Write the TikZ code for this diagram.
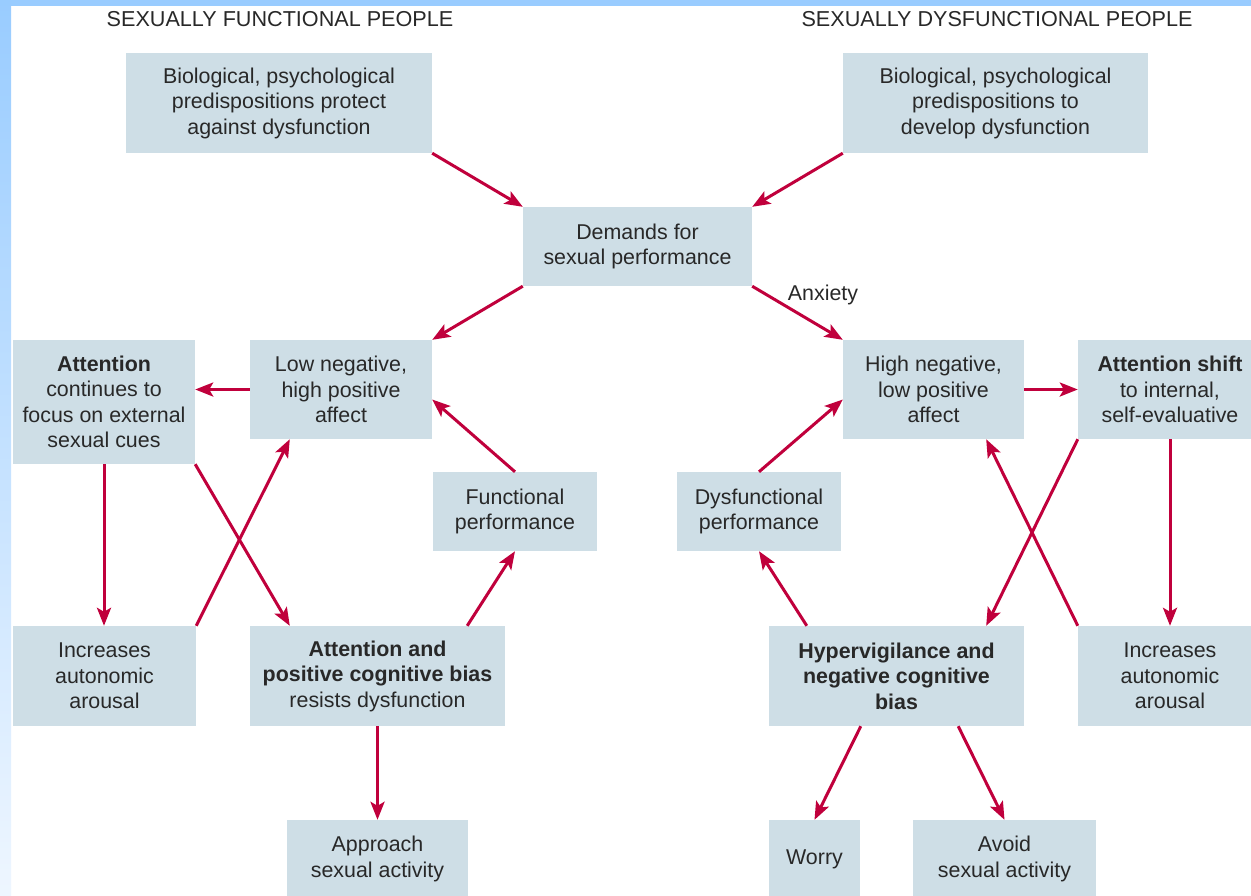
\documentclass[tikz,border=0pt]{standalone}
\usepackage{fontspec}
\setmainfont{Liberation Sans}
\usetikzlibrary{arrows.meta,calc}
\definecolor{arrowc}{RGB}{192,0,60}
\definecolor{boxc}{RGB}{206,222,230}
\definecolor{textc}{RGB}{40,40,40}
\definecolor{stripc}{RGB}{153,204,255}
\definecolor{stripl}{RGB}{238,246,255}
\tikzset{
  box/.style={fill=boxc, draw=none, inner sep=0pt, align=center, text=textc,
    font=\fontsize{21.4}{25.5}\selectfont},
  lbl/.style={inner sep=0pt, text=textc, font=\fontsize{21.4}{25.5}\selectfont},
  ttl/.style={inner sep=0pt, text=textc, font=\fontsize{21.6}{25.5}\selectfont},
  arr/.style={draw=arrowc, line width=3pt,
    -{Stealth[length=18pt,width=14pt,inset=4pt]}}
}
\begin{document}
\begin{tikzpicture}[x=1pt,y=-1pt]
\useasboundingbox (0,0) rectangle (1251,895);
\fill[white] (0,0) rectangle (1251,895);
\fill[stripc] (0,0) rectangle (1251,6);
\shade[top color=stripc, bottom color=stripl] (0,0) rectangle (11,895);

% titles
\node[ttl] (t1) at (280,19) {SEXUALLY FUNCTIONAL PEOPLE};
\node[ttl] (t2) at (997,19) {SEXUALLY DYSFUNCTIONAL PEOPLE};

% boxes
\node[box, minimum width=306pt, minimum height=100pt] (biol) at (279,103)
  {Biological, psychological\\predispositions protect\\against dysfunction};
\node[box, minimum width=305pt, minimum height=100pt] (bior) at (995.5,103)
  {Biological, psychological\\predispositions to\\develop dysfunction};
\node[box, minimum width=229pt, minimum height=79pt] (dem) at (637.5,246.5)
  {Demands for\\sexual performance};
\node[box, minimum width=182pt, minimum height=99pt] (lown) at (341,389.5)
  {Low negative,\\high positive\\affect};
\node[box, minimum width=182pt, minimum height=124pt] (attl) at (104,402)
  {\textbf{Attention}\\continues to\\focus on external\\sexual cues};
\node[box, minimum width=181pt, minimum height=99pt] (hign) at (933.5,389.5)
  {High negative,\\low positive\\affect};
\node[box, minimum width=184pt, minimum height=99pt] (atts) at (1170,389.5)
  {\textbf{Attention shift}\\to internal,\\self-evaluative};
\node[box, minimum width=164pt, minimum height=79pt] (func) at (515,511.5)
  {Functional\\performance};
\node[box, minimum width=164pt, minimum height=79pt] (dysf) at (759,511.5)
  {Dysfunctional\\performance};
\node[box, minimum width=183pt, minimum height=100pt] (incl) at (104.5,676)
  {Increases\\autonomic\\arousal};
\node[box, minimum width=255pt, minimum height=100pt] (attb) at (377.5,676)
  {\textbf{Attention and}\\\textbf{positive cognitive bias}\\resists dysfunction};
\node[box, minimum width=255pt, minimum height=100pt] (hyp) at (896.5,676)
  {\textbf{Hypervigilance and}\\\textbf{negative cognitive}\\\textbf{bias}};
\node[box, minimum width=184pt, minimum height=100pt] (incr) at (1170,676)
  {Increases\\autonomic\\arousal};
\node[box, minimum width=181pt, minimum height=78pt] (appr) at (377.5,859)
  {Approach\\sexual activity};
\node[box, minimum width=91pt, minimum height=78pt] (worry) at (814.5,859)
  {Worry};
\node[box, minimum width=183pt, minimum height=78pt] (avoid) at (1004.5,859)
  {Avoid\\sexual activity};

\node[lbl] (anx) at (823,295) {Anxiety};

% connectors
\draw[arr] (biol.south east) -- (dem.north west);
\draw[arr] (bior.south west) -- (dem.north east);
\draw[arr] (dem.south west) -- (lown.north east);
\draw[arr] (dem.south east) -- (hign.north west);
\draw[arr] (lown.west) -- (lown.west -| attl.east);
\draw[arr] (hign.east) -- (atts.west);
\draw[arr] (attl.south) -- (attl.south |- incl.north);
\draw[arr] (attl.south east) -- ($(attb.north west)+(40,0)$);
\draw[arr] (incl.north east) -- ($(lown.south west)+(40,0)$);
\draw[arr] ($(attb.north east)+(-38,0)$) -- (func.south);
\draw[arr] (func.north) -- ($(lown.east)+(0,10)$);
\draw[arr] (dysf.north) -- ($(hign.west)+(0,10)$);
\draw[arr] ($(hyp.north west)+(38,0)$) -- (dysf.south);
\draw[arr] (atts.south west) -- ($(hyp.north east)+(-38,0)$);
\draw[arr] (atts.south) -- (incr.north);
\draw[arr] (incr.north west) -- ($(hign.south east)+(-38,0)$);
\draw[arr] (attb.south) -- (appr.north);
\draw[arr] ($(hyp.south west)+(92,0)$) -- (worry.north);
\draw[arr] ($(hyp.south east)+(-66,0)$) -- (avoid.north);
\end{tikzpicture}
\end{document}
